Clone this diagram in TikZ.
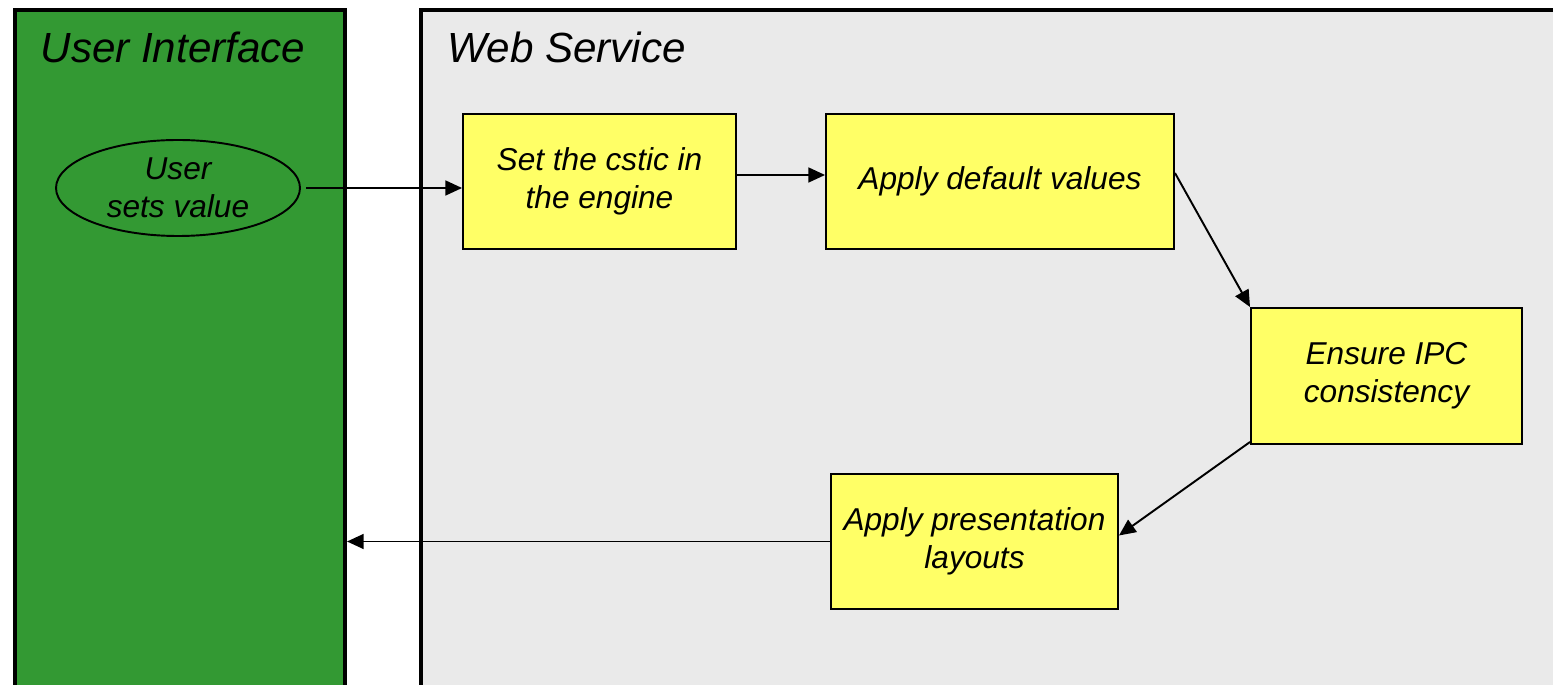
\documentclass[tikz,border=0pt]{standalone}
\usepackage{fontspec}
\setmainfont{Liberation Sans}
\usetikzlibrary{arrows.meta,shapes.geometric}
\definecolor{uigreen}{HTML}{339933}
\definecolor{wsgray}{HTML}{EAEAEA}
\definecolor{stepyellow}{HTML}{FFFF66}
\begin{document}
\begin{tikzpicture}[x=0.02cm, y=-0.02cm, thick,
    panel node/.style={rectangle, draw, line width=2.3pt, anchor=north west, inner sep=0pt},
    title node/.style={anchor=west, font=\itshape\fontsize{24}{28}\selectfont},
    main node/.style={rectangle, draw, line width=1.1pt, fill=stepyellow, align=center, inner sep=0pt,
        font=\itshape\fontsize{18}{21.6}\selectfont},
    every edge/.style={draw, line width=1.1pt, -{Triangle[length=9.5pt, width=8.5pt]}}]
    \useasboundingbox (0,0) rectangle (1553,685);
    \node[panel node, fill=uigreen, minimum width=330*0.02cm, minimum height=760*0.02cm] at (13,8) (ui) {};
    \node[panel node, fill=wsgray, minimum width=1200*0.02cm, minimum height=760*0.02cm] at (419,8) (ws) {};
    \node[title node] at (34,47) (uititle) {User Interface};
    \node[title node] at (441,47) (wstitle) {Web Service};

    \node[ellipse, draw, line width=1.1pt, fill=uigreen, align=center, inner sep=0pt,
        minimum width=244*0.02cm, minimum height=96*0.02cm,
        font=\itshape\fontsize{18}{21.6}\selectfont] at (178,188) (user) {User\\sets value};
    \node[main node, minimum width=273*0.02cm, minimum height=135*0.02cm] at (599.5,181.5) (engine) {Set the cstic in\\the engine};
    \node[main node, minimum width=348*0.02cm, minimum height=135*0.02cm] at (1000,181.5) (default) {Apply default values};
    \node[main node, minimum width=271*0.02cm, minimum height=136*0.02cm] at (1386.5,376) (ipc) {Ensure IPC\\consistency};
    \node[main node, minimum width=287*0.02cm, minimum height=135*0.02cm] at (974.5,541.5) (layout) {Apply presentation\\layouts};

    \path (user.east) edge[shorten <=3pt] (user.east -| engine.west);
    \path ([yshift=0.13cm]engine.east) edge ([yshift=0.13cm]engine.east -| default.west);
    \path ([yshift=0.17cm]default.east) edge (ipc.north west);
    \path ([yshift=0.06cm]ipc.south west) edge ([yshift=0.12cm]layout.east);
    \path (layout.west) edge (layout.west -| ui.east);
\end{tikzpicture}
\end{document}
